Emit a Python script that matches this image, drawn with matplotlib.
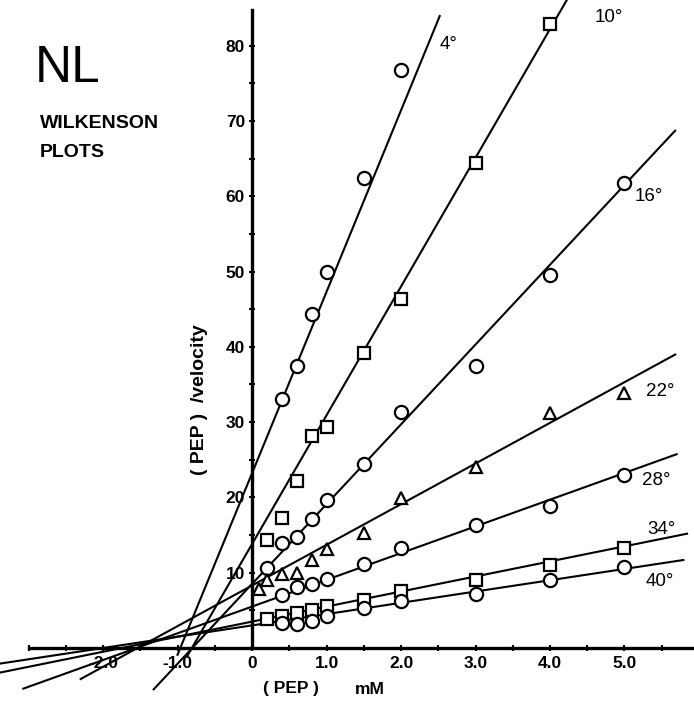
import matplotlib
matplotlib.use("Agg")
import matplotlib.pyplot as plt
import numpy as np

# ---------------- data ----------------
series_labels = ["4°", "10°", "16°", "22°", "28°", "34°", "40°"]
series_markers = ["o", "s", "o", "^", "o", "s", "o"]

x_4 = [0.4, 0.6, 0.8, 1.0, 1.5, 2.0]
y_4 = [33.1, 37.4, 44.4, 50.0, 62.4, 76.7]

x_10 = [0.2, 0.4, 0.6, 0.8, 1.0, 1.5, 2.0, 3.0, 4.0]
y_10 = [14.3, 17.3, 22.2, 28.1, 29.3, 39.2, 46.4, 64.4, 82.9]

x_16 = [0.2, 0.4, 0.6, 0.8, 1.0, 1.5, 2.0, 3.0, 4.0, 5.0]
y_16 = [10.6, 13.9, 14.8, 17.1, 19.7, 24.5, 31.4, 37.4, 49.6, 61.8]

x_22 = [0.1, 0.2, 0.4, 0.6, 0.8, 1.0, 1.5, 2.0, 3.0, 4.0, 5.0]
y_22 = [7.9, 9.0, 9.8, 9.9, 11.7, 13.2, 15.3, 19.9, 24.1, 31.2, 33.9]

x_28 = [0.4, 0.6, 0.8, 1.0, 1.5, 2.0, 3.0, 4.0, 5.0]
y_28 = [7.0, 8.1, 8.5, 9.1, 11.2, 13.3, 16.4, 18.9, 23.0]

x_34 = [0.2, 0.4, 0.6, 0.8, 1.0, 1.5, 2.0, 3.0, 4.0, 5.0]
y_34 = [3.9, 4.2, 4.6, 5.1, 5.6, 6.4, 7.6, 9.0, 11.0, 13.3]

x_40 = [0.4, 0.6, 0.8, 1.0, 1.5, 2.0, 3.0, 4.0, 5.0]
y_40 = [3.3, 3.2, 3.6, 4.2, 5.3, 6.2, 7.2, 9.0, 10.8]

# fitted straight lines drawn by hand on the original: intercept, slope, extent
fit_intercept = [23.2, 13.8, 8.5, 8.3, 5.5, 3.5, 3.0]
fit_slope = [24.1, 17.1, 10.6, 5.4, 3.55, 2.0, 1.5]
fit_x_start = [-1.0, -0.87, -1.32, -2.3, -3.07, -3.4, -3.4]
fit_x_end = [2.52, 4.5, 5.68, 5.68, 5.70, 5.84, 5.79]

# label positions of the temperature tags (data coords)
tag_x = [2.64, 4.79, 5.32, 5.48, 5.42, 5.50, 5.48]
tag_y = [80.1, 83.7, 59.9, 34.0, 22.2, 15.7, 8.8]

x_ticks = [-2.0, -1.0, 0.0, 1.0, 2.0, 3.0, 4.0, 5.0]
x_tick_labels = ["-2.0", "-1.0", "0", "1.0", "2.0", "3.0", "4.0", "5.0"]
y_ticks = [10, 20, 30, 40, 50, 60, 70, 80]

xs = [x_4, x_10, x_16, x_22, x_28, x_34, x_40]
ys = [y_4, y_10, y_16, y_22, y_28, y_34, y_40]

# ---------------- figure ----------------
W, H = 694, 708
fig = plt.figure(figsize=(W / 100, H / 100), dpi=100)
ax = fig.add_axes([0, 0, 1, 1])
ax.set_xlim(-3.383, 5.933)
ax.set_ylim(-7.97, 86.06)
ax.patch.set_alpha(0)

# axes through the origin
for s in ["top", "right"]:
    ax.spines[s].set_visible(False)
ax.spines["left"].set_position(("data", 0))
ax.spines["bottom"].set_position(("data", 0))
ax.spines["left"].set_bounds(0, 84.7)
ax.spines["bottom"].set_bounds(-3.0, 5.933)
ax.spines["left"].set_linewidth(2.4)
ax.spines["bottom"].set_linewidth(2.4)

ax.set_xticks(x_ticks)
ax.set_xticklabels(x_tick_labels)
ax.set_xticks(np.arange(-3.0, 6.0, 0.5), minor=True)
ax.set_yticks(y_ticks)
ax.set_yticks(np.arange(5, 85, 5), minor=True)
ax.tick_params(axis="both", which="both", direction="inout", width=1.5,
               length=4, labelsize=12.5)
ax.tick_params(axis="x", pad=4)
ax.tick_params(axis="y", pad=3)
for lab in ax.get_xticklabels() + ax.get_yticklabels():
    lab.set_fontweight("bold")
    lab.set_family("Liberation Sans")

# fitted lines
for b, m, x0, x1 in zip(fit_intercept, fit_slope, fit_x_start, fit_x_end):
    xl = np.array([x0, x1])
    ax.plot(xl, b + m * xl, color="black", lw=1.5, zorder=2, clip_on=True)

# data points: open markers that hide the line beneath them
msize = {"o": 9.5, "s": 9.0, "^": 9.0}
for x, y, mk in zip(xs, ys, series_markers):
    ax.plot(x, y, linestyle="none", marker=mk, markersize=msize[mk],
            markerfacecolor="white", markeredgecolor="black",
            markeredgewidth=1.6, zorder=3)

# temperature tags
for t, tx, ty in zip(series_labels, tag_x, tag_y):
    ax.text(tx, ty, t, fontsize=13.5, family="Liberation Sans",
            ha="center", va="center", zorder=4)

# titles
fig.text(35 / W, 1 - 82 / H, "NL", fontsize=37, family="Liberation Sans",
         va="baseline", ha="left")
fig.text(40 / W, 1 - 128 / H, "WILKENSON", fontsize=14, fontweight="bold",
         family="Liberation Sans", va="baseline", ha="left")
fig.text(40 / W, 1 - 157 / H, "PLOTS", fontsize=14, fontweight="bold",
         family="Liberation Sans", va="baseline", ha="left")

# axis labels
fig.text(200 / W, 1 - 400 / H, "( PEP )  /velocity", rotation=90,
         fontsize=14, fontweight="bold", family="Liberation Sans",
         ha="center", va="center")
fig.text(291 / W, 1 - 689 / H, "( PEP )", fontsize=12.5, fontweight="bold",
         family="Liberation Sans", ha="center", va="center")
fig.text(370 / W, 1 - 690 / H, "mM", fontsize=12.5, fontweight="bold",
         family="Liberation Sans", ha="center", va="center")

fig.savefig("out.png", dpi=100, facecolor="white")
